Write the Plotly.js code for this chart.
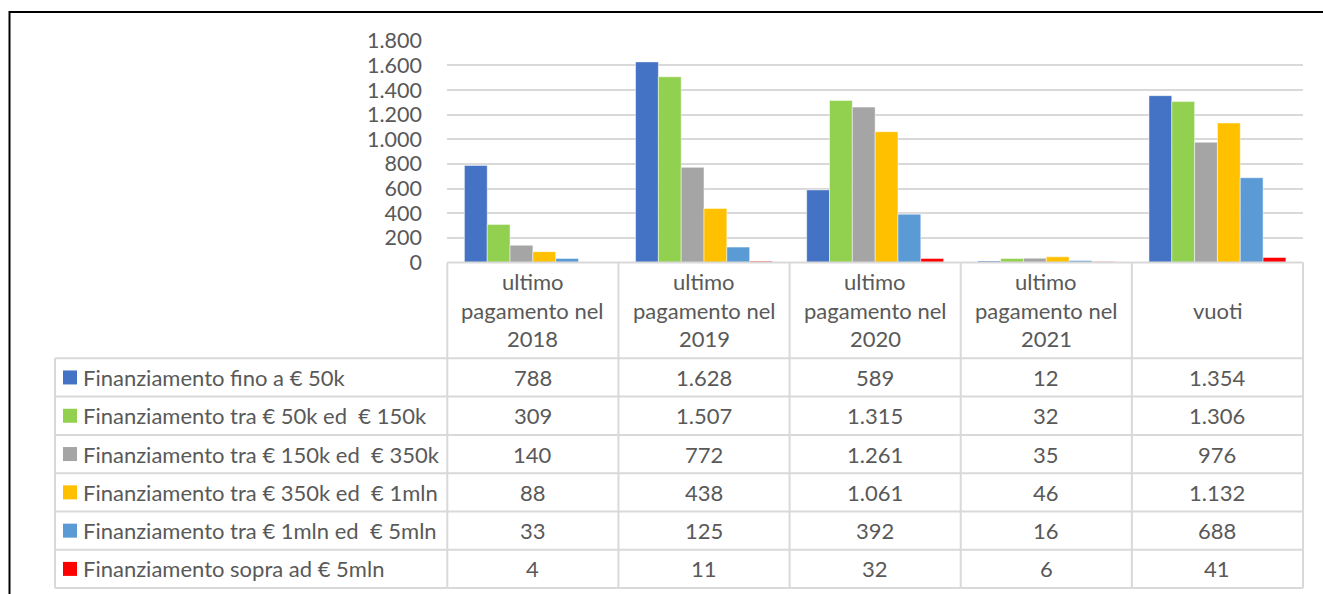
<!DOCTYPE html>
<html><head><meta charset="utf-8">
<script src="https://cdn.plot.ly/plotly-3.0.1.min.js"></script>
<style>html,body{margin:0;padding:0;background:#fff;}#chart{width:1323px;height:594px;}</style>
</head><body><div id="chart"></div>
<script>
const categories = ['ultimo pagamento nel 2018','ultimo pagamento nel 2019','ultimo pagamento nel 2020','ultimo pagamento nel 2021','vuoti'];
const seriesNames = ['Finanziamento fino a € 50k','Finanziamento tra € 50k ed  € 150k','Finanziamento tra € 150k ed  € 350k','Finanziamento tra € 350k ed  € 1mln','Finanziamento tra € 1mln ed  € 5mln','Finanziamento sopra ad € 5mln'];
const fino50k = [788, 1628, 589, 12, 1354];
const tra50k150k = [309, 1507, 1315, 32, 1306];
const tra150k350k = [140, 772, 1261, 35, 976];
const tra350k1mln = [88, 438, 1061, 46, 1132];
const tra1mln5mln = [33, 125, 392, 16, 688];
const sopra5mln = [4, 11, 32, 6, 41];
const yTicks = [0,200,400,600,800,1000,1200,1400,1600,1800];

const seriesValues = [fino50k, tra50k150k, tra150k350k, tra350k1mln, tra1mln5mln, sopra5mln];
const colors = ['#4472C4','#92D050','#A5A5A5','#FFC000','#5B9BD5','#FF0000'];

const W = 1323, H = 594;
const X = px => px / W;
const Y = py => 1 - py / H;
const FONT = 'Lato, "Open Sans", sans-serif';
const TXT = '#595959';
const GRID = '#d9d9d9';
const FS = 21.5;
const FST = 22;

const plotL = 447.3, plotR = 1303, plotTop = 40.7, plotBot = 262.5;
const tabL = 55;
const rowTops = [358.3, 396.6, 434.9, 473.2, 511.5, 549.8, 588];
const colW = (plotR - plotL) / categories.length;

const traces = seriesValues.map((vals, i) => ({
  type: 'bar', name: seriesNames[i], x: categories, y: vals,
  marker: {color: colors[i], line: {color: 'rgba(255,255,255,0.6)', width: 0.8}},
  hoverinfo: 'x+y+name'
}));

const shapes = [];
const annotations = [];
const line = (x0,y0,x1,y1,color,w) => shapes.push({type:'line', xref:'paper', yref:'paper', x0:X(x0), y0:Y(y0), x1:X(x1), y1:Y(y1), line:{color:color, width:w}});

// outer chart border
shapes.push({type:'rect', xref:'paper', yref:'paper', x0:X(9.5), y0:Y(620), x1:X(1340), y1:Y(12), line:{color:'#000', width:2}, fillcolor:'rgba(0,0,0,0)'});

// table grid
line(plotL, plotBot, plotR, plotBot, GRID, 2);
rowTops.forEach(y => line(tabL, y, plotR, y, GRID, 2));
line(tabL, rowTops[0], tabL, rowTops[rowTops.length-1], GRID, 2);
for (let c = 0; c <= categories.length; c++) {
  const x = plotL + c * colW;
  line(x, plotBot, x, rowTops[rowTops.length-1], GRID, 2);
}

function wrap(s, max) {
  const words = s.split(' '); const out = []; let cur = '';
  words.forEach(w => { if (!cur) cur = w; else if ((cur + ' ' + w).length <= max) cur += ' ' + w; else { out.push(cur); cur = w; } });
  if (cur) out.push(cur); return out;
}
const fmt = n => String(n).replace(/\B(?=(\d{3})+(?!\d))/g, '.');

categories.forEach((cat, c) => {
  const lines = wrap(cat, 13);
  const cx = plotL + (c + 0.5) * colW;
  const midY = (plotBot + rowTops[0]) / 2;
  const lh = 28.5;
  lines.forEach((t, k) => {
    const yy = midY + (k - (lines.length - 1) / 2) * lh;
    annotations.push({xref:'paper', yref:'paper', x:X(cx), y:Y(yy), text:t, showarrow:false, xanchor:'center', yanchor:'middle', font:{family:FONT, size:FST, color:TXT}});
  });
});

seriesNames.forEach((name, r) => {
  const cy = (rowTops[r] + rowTops[r+1]) / 2;
  shapes.push({type:'rect', xref:'paper', yref:'paper', x0:X(63), x1:X(77), y0:Y(cy+7), y1:Y(cy-7), fillcolor:colors[r], line:{width:0}});
  annotations.push({xref:'paper', yref:'paper', x:X(81), y:Y(cy), text:name, showarrow:false, xanchor:'left', yanchor:'middle', font:{family:FONT, size:FST, color:TXT}});
  seriesValues[r].forEach((v, c) => {
    const cx = plotL + (c + 0.5) * colW;
    annotations.push({xref:'paper', yref:'paper', x:X(cx), y:Y(cy), text:fmt(v), showarrow:false, xanchor:'center', yanchor:'middle', font:{family:FONT, size:FST, color:TXT}});
  });
});

const layout = {
  width: W, height: H,
  margin: {l:0, r:0, t:0, b:0},
  paper_bgcolor: '#fff', plot_bgcolor: '#fff',
  separators: ',.',
  barmode: 'group', bargap: 0.2, bargroupgap: 0,
  showlegend: false,
  font: {family: FONT, size: FS, color: TXT},
  xaxis: {domain:[X(plotL), X(plotR)], range:[-0.5, 4.5], showticklabels:false, showgrid:false, zeroline:false, showline:false, ticks:'', fixedrange:true},
  yaxis: {domain:[Y(plotBot), Y(plotTop)], range:[0,1800], tickvals:yTicks, tickformat:',d', showgrid:true, gridcolor:GRID, gridwidth:2, zeroline:false, showline:false, ticks:'outside', ticklen:20, tickcolor:'rgba(0,0,0,0)', tickfont:{family:FONT, size:FS, color:TXT}, fixedrange:true},
  shapes: shapes, annotations: annotations
};

Plotly.newPlot('chart', traces, layout, {displayModeBar:false, staticPlot:true});
</script>
</body></html>
